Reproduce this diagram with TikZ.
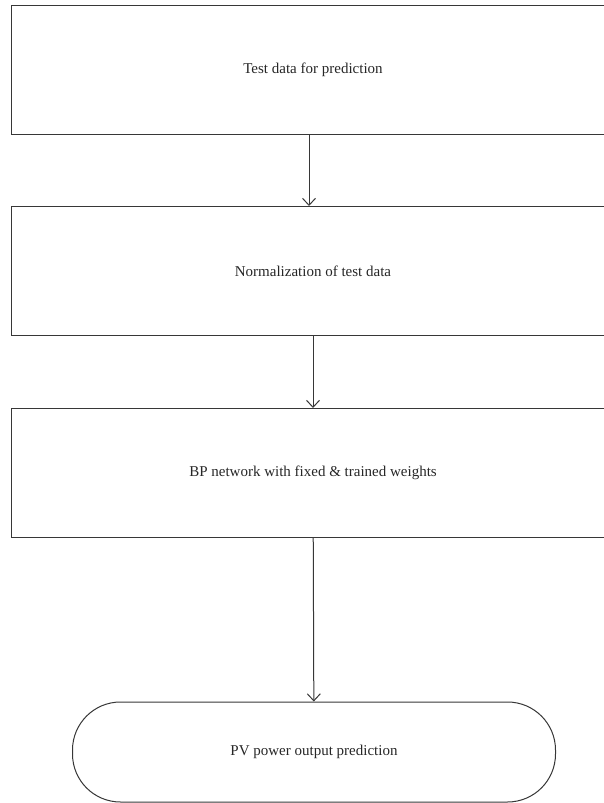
\documentclass[tikz,border=0pt]{standalone}
\usepackage{fontspec}
\setmainfont{Liberation Serif}
\usepackage{tikz}
\usetikzlibrary{arrows.meta,positioning}
\definecolor{edge}{RGB}{55,55,55}

\begin{document}
\begin{tikzpicture}[
  x=1pt, y=-1pt,
  stepbox/.style={draw=edge, line width=1pt, minimum width=604pt, minimum height=129pt,
    inner sep=0pt, font=\fontsize{15}{18}\selectfont, text=black!85},
  endbox/.style={draw=edge, line width=1pt, rounded corners=48pt, minimum width=483pt,
    minimum height=100pt, inner sep=0pt, font=\fontsize{15}{18}\selectfont, text=black!85},
  arr/.style={-{Straight Barb[length=7pt, width=13pt, line width=1pt]}, line width=1pt, draw=edge},
]
\useasboundingbox (0,0) rectangle (603,803);

\node[stepbox] (testdata) at (313,69.5) {Test data for prediction};
\node[stepbox] (norm) at (313,271) {Normalization of test data};
\node[stepbox] (bpnet) at (313,473) {BP network with fixed \& trained weights};
\node[endbox] (pvout) at (314,752) {PV power output prediction};

\draw[arr] ([xshift=-4pt]testdata.south) -- ([xshift=-4pt]norm.north);
\draw[arr] (norm) -- (bpnet);
\draw[arr] (bpnet) -- (pvout);
\end{tikzpicture}
\end{document}
